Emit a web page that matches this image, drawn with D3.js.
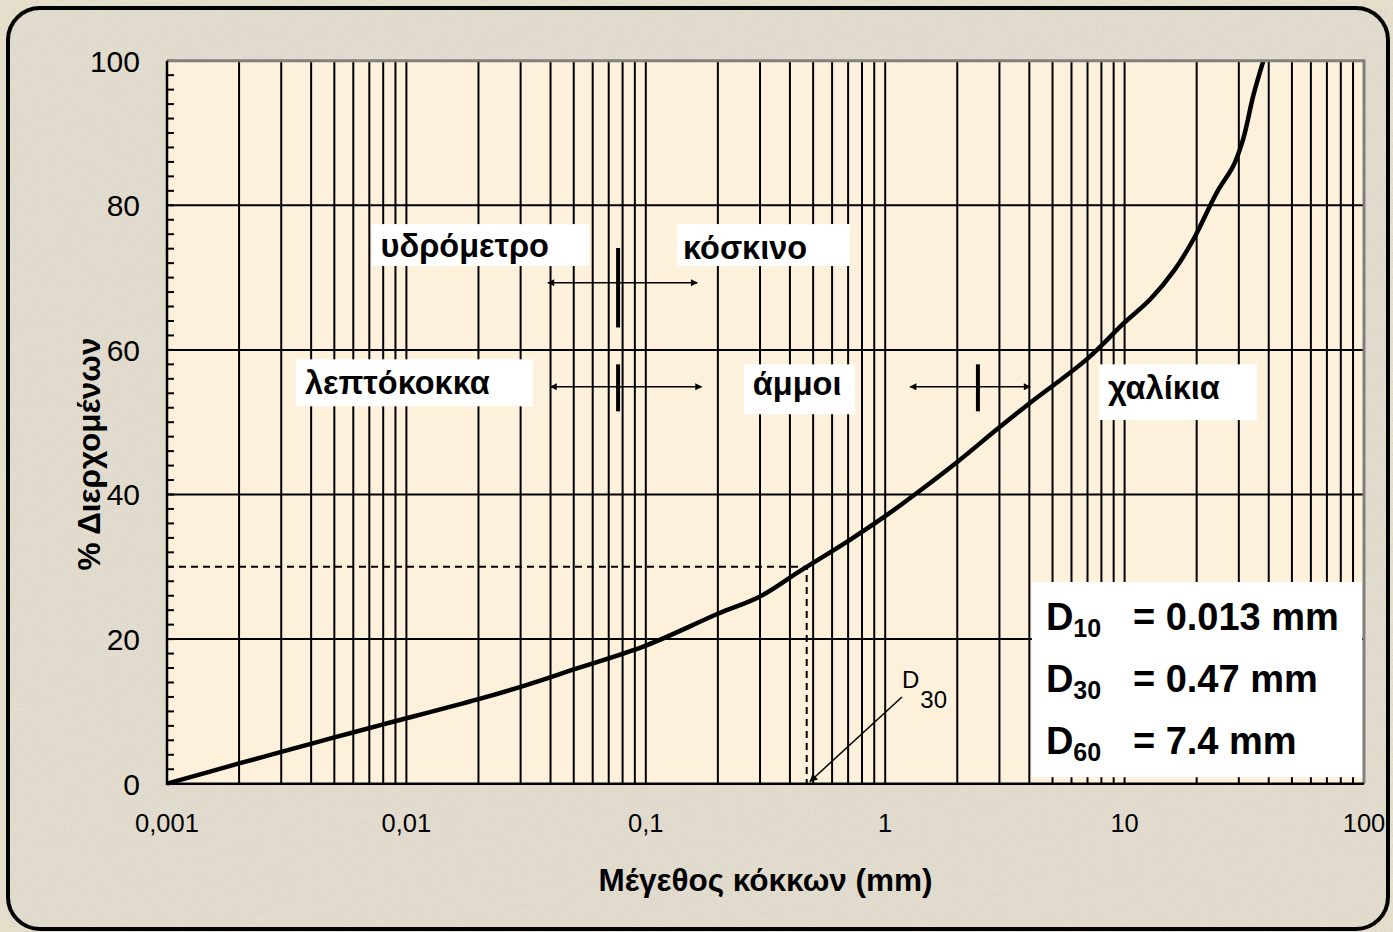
<html>
<head>
  <style>
  body {
    margin: 0;
    background: #e7e0cd;
    font-family: "Liberation Sans", Arial, sans-serif;
  }
  .grid line { stroke: #000; stroke-width: 2px; }
  .lbl { font-weight: bold; font-size: 32.5px; fill: #000; }
  </style>
</head>
<body>
<div id="chart"></div>
<script src="https://d3js.org/d3.v7.min.js"></script>
<script>

// grading curve: grain size (mm) and % passing
var sizeMm  = [0.001, 0.002, 0.003, 0.005, 0.008, 0.02, 0.03, 0.05, 0.1, 0.2, 0.3, 0.44, 0.71, 1.0, 1.33, 2.0, 3.0, 4.0, 7.0, 10, 12.8, 16.2, 19.4, 24.3, 28.5, 31.3, 34.5, 38];
var passing = [0, 2.8, 4.4, 6.4, 8.2, 11.7, 13.4, 15.8, 19.1, 23.5, 25.9, 29.4, 33.7, 37, 40, 44.5, 49.3, 52.6, 58.8, 63.8, 67, 71.1, 75.3, 81.8, 85.5, 89.2, 95.2, 100];

var xTicks = [0.001, 0.01, 0.1, 1, 10, 100];
var xTickLabels = ["0,001", "0,01", "0,1", "1", "10", "100"];
var yTicks = [0, 20, 40, 60, 80, 100];

var d30 = 0.47;
var dValues = [["10", "= 0.013 mm"], ["30", "= 0.47 mm"], ["60", "= 7.4 mm"]];

// text boxes: [label, box x0 mm, box x1 mm, box top %, box bottom %, text x mm, baseline %]
var boxes = [
  ["υδρόμετρο",  0.0072, 0.058, 77.4, 71.6, 0.0078, 72.8],
  ["κόσκινο",    0.135,  0.713, 77.4, 71.6, 0.143,  72.6],
  ["λεπτόκοκκα", 0.00346, 0.0338, 58.7, 52.2, 0.00377, 53.9],
  ["άμμοι",      0.257,  0.748, 58.0, 51.1, 0.280,  53.8],
  ["χαλίκια",    7.82,   35.7,  58.0, 50.3, 8.53,   53.2]
];
// double arrows: [x0 mm, x1 mm, y %, bar mm, bar top %, bar bottom %]
var arrows = [
  [0.039, 0.164, 69.3, 0.0766, 74.1, 63.1],
  [0.040, 0.171, 54.9, 0.0766, 58.0, 51.5],
  [1.27,  4.03,  54.9, 2.44,   58.0, 51.5]
];

var W = 1393, H = 932;
var margin = {top: 60.7, right: 29, bottom: 148.3, left: 167};

var svg = d3.select("#chart").append("svg")
  .attr("width", W).attr("height", H);

var defs = svg.append("defs");
var f = defs.append("filter").attr("id", "grain").attr("x", 0).attr("y", 0).attr("width", 1).attr("height", 1);
f.append("feTurbulence").attr("type", "fractalNoise").attr("baseFrequency", 0.9).attr("numOctaves", 2).attr("seed", 3);
f.append("feColorMatrix").attr("values", "0 0 0 0 0.45  0 0 0 0 0.42  0 0 0 0 0.36  0 0 0 1.2 -0.55");

defs.append("marker").attr("id", "ah")
  .attr("viewBox", "0 0 10 10").attr("refX", 9).attr("refY", 5)
  .attr("markerWidth", 9).attr("markerHeight", 7).attr("markerUnits", "userSpaceOnUse")
  .attr("orient", "auto-start-reverse")
  .append("path").attr("d", "M0,0L10,5L0,10z").attr("fill", "#000");
defs.append("marker").attr("id", "ah2")
  .attr("viewBox", "0 0 10 10").attr("refX", 9).attr("refY", 5)
  .attr("markerWidth", 11).attr("markerHeight", 8).attr("markerUnits", "userSpaceOnUse")
  .attr("orient", "auto")
  .append("path").attr("d", "M0,0L10,5L0,10z").attr("fill", "#000");

// panel
svg.append("rect").attr("width", W).attr("height", H).attr("filter", "url(#grain)").attr("opacity", 0.5);
svg.append("rect")
  .attr("x", 8).attr("y", 8).attr("width", 1380).attr("height", 921)
  .attr("rx", 32).attr("ry", 32)
  .attr("fill", "#e3ddd0").attr("stroke", "#000").attr("stroke-width", 4);
svg.append("rect")
  .attr("x", 10).attr("y", 10).attr("width", 1376).attr("height", 917).attr("rx", 30)
  .attr("filter", "url(#grain)").attr("opacity", 0.45);

var x = d3.scaleLog().domain([0.001, 100]).range([margin.left, W - margin.right]);
var y = d3.scaleLinear().domain([0, 100]).range([H - margin.bottom, margin.top]);

// plot area
svg.append("rect")
  .attr("x", x(0.001)).attr("y", y(100))
  .attr("width", x(100) - x(0.001)).attr("height", y(0) - y(100))
  .attr("fill", "#fdf1db");

// grid
var minor = [];
for (var e = -3; e < 2; e++) for (var m = 1; m <= 9; m++) minor.push(m * Math.pow(10, e));
var grid = svg.append("g").attr("class", "grid");
grid.selectAll(".v").data(minor.slice(1)).enter().append("line")
  .attr("x1", function(d) { return x(d); }).attr("x2", function(d) { return x(d); })
  .attr("y1", y(0)).attr("y2", y(100));
grid.selectAll(".h").data([20, 40, 60, 80]).enter().append("line")
  .attr("x1", x(0.001)).attr("x2", x(100))
  .attr("y1", function(d) { return y(d); }).attr("y2", function(d) { return y(d); });

// y minor ticks every 2%
svg.append("g").selectAll("line").data(d3.range(0, 101, 2)).enter().append("line")
  .attr("x1", x(0.001)).attr("x2", x(0.001) + 7)
  .attr("y1", function(d) { return y(d); }).attr("y2", function(d) { return y(d); })
  .attr("stroke", "#000").attr("stroke-width", 2);

// D30 dashed guides
svg.append("path")
  .attr("d", "M" + x(0.001) + "," + y(30) + "H" + x(d30) + "V" + y(0))
  .attr("fill", "none").attr("stroke", "#000").attr("stroke-width", 2).attr("stroke-dasharray", "7,5");

// boxes
boxes.forEach(function(b) {
  svg.append("rect")
    .attr("x", x(b[1])).attr("y", y(b[3]))
    .attr("width", x(b[2]) - x(b[1])).attr("height", y(b[4]) - y(b[3]))
    .attr("fill", "#fff");
  svg.append("text").attr("class", "lbl")
    .attr("x", x(b[5])).attr("y", y(b[6])).text(b[0]);
});

// arrows
arrows.forEach(function(a) {
  svg.append("line")
    .attr("x1", x(a[0])).attr("x2", x(a[1])).attr("y1", y(a[2])).attr("y2", y(a[2]))
    .attr("stroke", "#000").attr("stroke-width", 1.5)
    .attr("marker-start", "url(#ah)").attr("marker-end", "url(#ah)");
  svg.append("line")
    .attr("x1", x(a[3])).attr("x2", x(a[3])).attr("y1", y(a[4])).attr("y2", y(a[5]))
    .attr("stroke", "#000").attr("stroke-width", 4);
});

// curve
var line = d3.line()
  .x(function(d, i) { return x(sizeMm[i]); })
  .y(function(d) { return y(d); })
  .curve(d3.curveCatmullRom.alpha(0.5));
svg.append("path").datum(passing)
  .attr("d", line)
  .attr("fill", "none").attr("stroke", "#000").attr("stroke-width", 4.5)
  .attr("stroke-linejoin", "round");

// D30 leader
svg.append("line")
  .attr("x1", x(1.175)).attr("y1", y(12)).attr("x2", x(0.485)).attr("y2", y(0.3))
  .attr("stroke", "#000").attr("stroke-width", 1.5).attr("marker-end", "url(#ah2)");
var dl = svg.append("text").attr("x", x(1.175)).attr("y", y(13.25)).attr("font-size", 24);
dl.append("tspan").text("D");
dl.append("tspan").attr("dx", 1).attr("dy", 20).text("30");

// D values box
var bx = x(4.1), by = y(27.9);
svg.append("rect")
  .attr("x", bx).attr("y", by).attr("width", x(100) - 2 - bx).attr("height", y(0.9) - by)
  .attr("fill", "#fff");
dValues.forEach(function(d, i) {
  var t = svg.append("text").attr("x", bx + 14).attr("y", by + 48 + i * 62)
    .attr("font-weight", "bold").attr("font-size", 38);
  t.append("tspan").text("D");
  t.append("tspan").attr("dy", 7).attr("font-size", 25).text(d[0]);
  svg.append("text").attr("x", bx + 101).attr("y", by + 48 + i * 62)
    .attr("font-weight", "bold").attr("font-size", 38).text(d[1]);
});

// frame of plot
svg.append("path")
  .attr("d", "M" + x(0.001) + "," + y(100) + "H" + x(100) + "V" + y(0))
  .attr("fill", "none").attr("stroke", "#808080").attr("stroke-width", 3);
svg.append("path")
  .attr("d", "M" + x(0.001) + "," + y(100) + "V" + y(0) + "H" + x(100))
  .attr("fill", "none").attr("stroke", "#000").attr("stroke-width", 2.5);

// tick labels
svg.append("g").selectAll("text").data(yTicks).enter().append("text")
  .attr("x", x(0.001) - 27).attr("y", function(d) { return y(d); })
  .attr("dy", "0.36em").attr("text-anchor", "end").attr("font-size", 30)
  .text(function(d) { return d; });
svg.append("g").selectAll("text").data(xTicks).enter().append("text")
  .attr("x", function(d) { return x(d); }).attr("y", 832)
  .attr("text-anchor", "middle").attr("font-size", 25.5)
  .text(function(d, i) { return xTickLabels[i]; });

// axis titles
svg.append("text")
  .attr("x", (x(0.001) + x(100)) / 2).attr("y", 891)
  .attr("text-anchor", "middle").attr("font-weight", "bold").attr("font-size", 31.5)
  .text("Μέγεθος κόκκων (mm)");
svg.append("text")
  .attr("transform", "translate(100,454) rotate(-90)")
  .attr("text-anchor", "middle").attr("font-weight", "bold").attr("font-size", 31.5)
  .text("% Διερχομένων");

</script>
</body>
</html>
